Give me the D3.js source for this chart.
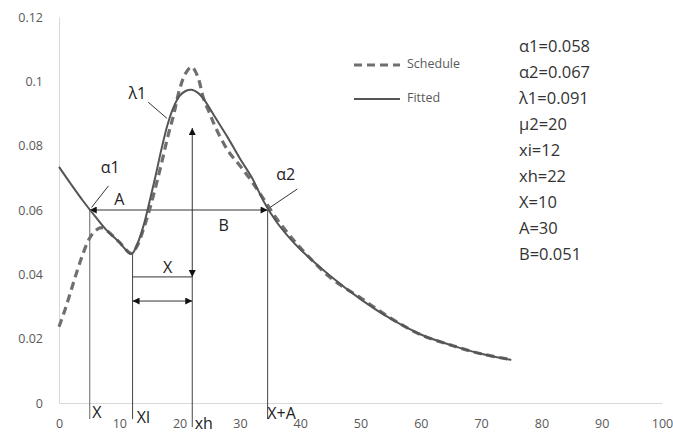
<!DOCTYPE html>
<html><head><meta charset="utf-8">
<script src="https://cdn.jsdelivr.net/npm/d3@7"></script>
<style>
body{margin:0;background:#fff;}
svg{display:block;}
</style></head>
<body>
<svg id="chart" width="673" height="447"></svg>
<script>
// ---- data ----
const fittedX = [0,2,4,6,8,10,12,13,14,15,16,17,18,19,20,21,22,23,24,26,28,30,32,34,36,38,40,45,50,55,60,65,70,75];
const fittedY = [0.0734,0.0680,0.0628,0.0580,0.0535,0.0500,0.0463,0.0495,0.0550,0.0625,0.0705,0.0790,0.0865,0.0920,0.0955,0.0970,0.0974,0.0965,0.0945,0.0885,0.0825,0.0760,0.0700,0.0625,0.0565,0.0518,0.0478,0.0395,0.0323,0.0262,0.0213,0.0180,0.0153,0.0134];
const scheduleX = [0,1,2,3,4,5,6,7,8,10,12,13,14,15,16,17,18,19,20,21,22,23,24,25,26,28,30,32,34,36,38,40,45,50,55,60,65,70,75];
const scheduleY = [0.0237,0.0290,0.0350,0.0410,0.0465,0.0510,0.0535,0.0545,0.0535,0.0500,0.0465,0.0490,0.0540,0.0600,0.0670,0.0745,0.0825,0.0895,0.0975,0.1025,0.1045,0.1015,0.0945,0.0900,0.0855,0.0785,0.0738,0.0688,0.0632,0.0575,0.0527,0.0483,0.0390,0.0327,0.0264,0.0212,0.0180,0.0153,0.0135];
const xTicks = [0,10,20,30,40,50,60,70,80,90,100];
const yTicks = [0,0.02,0.04,0.06,0.08,0.1,0.12];
const yTickLabels = ["0","0.02","0.04","0.06","0.08","0.1","0.12"];
const seriesNames = ["Schedule","Fitted"];
const paramLabels = ["α1=0.058","α2=0.067","λ1=0.091","μ2=20","xi=12","xh=22","X=10","A=30","B=0.051"];
// annotation anchors (data units)
const xAlpha1 = 5.1, xLow = 12.2, xHigh = 22.1, xAlpha2 = 34.6;
const yAB = 0.060, yXline = 0.0392, yDouble = 0.0317, yArrowTop = 0.0855, yBelow = -0.005, yBelowH = -0.0075;

// ---- layout ----
const svg = d3.select("#chart");
const x = d3.scaleLinear().domain([0,100]).range([59,662]);
const y = d3.scaleLinear().domain([0,0.12]).range([403,17]);
const tickFont = "'Open Sans', 'Liberation Sans', sans-serif";

const defs = svg.append("defs");
defs.append("marker").attr("id","arr").attr("viewBox","0 0 10 10").attr("refX",10).attr("refY",5)
  .attr("markerWidth",9).attr("markerHeight",7).attr("markerUnits","userSpaceOnUse").attr("orient","auto-start-reverse")
  .append("path").attr("d","M0,0L10,5L0,10Z").attr("fill","#111");

// axes
const gy = svg.append("g").attr("transform",`translate(${x(0)},0)`)
  .call(d3.axisLeft(y).tickValues(yTicks).tickSize(0).tickSizeOuter(0).tickPadding(16)
    .tickFormat((d,i)=>yTickLabels[i]));
gy.select(".domain").attr("stroke","#d9d9d9");
gy.selectAll("text").attr("font-family",tickFont).attr("font-size",12.5).attr("fill","#595959");

const gx = svg.append("g").attr("transform",`translate(0,${y(0)})`)
  .call(d3.axisBottom(x).tickValues(xTicks).tickSize(0).tickSizeOuter(0).tickPadding(16));
gx.select(".domain").attr("stroke","#d9d9d9");
gx.selectAll("text").attr("font-family",tickFont).attr("font-size",12.5).attr("fill","#595959");

// annotation lines
const ann = svg.append("g").attr("stroke","#333").attr("stroke-width",1).attr("fill","none");
function seg(x1,y1,x2,y2,m1,m2,col){
  const l = ann.append("line").attr("x1",x(x1)).attr("y1",y(y1)).attr("x2",x(x2)).attr("y2",y(y2));
  if(col) l.attr("stroke",col);
  if(m1) l.attr("marker-start","url(#arr)");
  if(m2) l.attr("marker-end","url(#arr)");
  return l;
}
seg(xAlpha1,yAB,xAlpha1,yBelow,false,false,"#666");
seg(xLow,0.0463,xLow,yBelow,false,false,"#444");
seg(xHigh,yXline,xHigh,yBelowH,false,false,"#444");
seg(xAlpha2,yAB,xAlpha2,yBelow,false,false,"#444");
seg(xAlpha1,yAB,xAlpha2,yAB,true,true);
seg(xHigh,yArrowTop,xHigh,yXline,true,true);
seg(xLow,yXline,xHigh,yXline,false,false);
seg(xLow,yDouble,xHigh,yDouble,true,true);

// curves
const line = d3.line().x(d=>x(d[0])).y(d=>y(d[1])).curve(d3.curveCatmullRom.alpha(0.5));
const fitted = fittedX.map((v,i)=>[v,fittedY[i]]);
const schedule = scheduleX.map((v,i)=>[v,scheduleY[i]]);
svg.append("path").datum(schedule).attr("d",line).attr("fill","none")
  .attr("stroke","#6f6f6f").attr("stroke-width",3.2).attr("stroke-dasharray","8,5");
svg.append("path").datum(fitted).attr("d",line).attr("fill","none")
  .attr("stroke","#555").attr("stroke-width",2);

// leader lines
const lead = svg.append("g").attr("stroke","#333").attr("stroke-width",1);
lead.append("line").attr("x1",x(8.2)).attr("y1",y(0.0675)).attr("x2",x(xAlpha1+0.3)).attr("y2",y(yAB+0.0008));
lead.append("line").attr("x1",x(14.8)).attr("y1",y(0.0935)).attr("x2",x(17.9)).attr("y2",y(0.0885));
lead.append("line").attr("x1",x(39.5)).attr("y1",y(0.0665)).attr("x2",x(xAlpha2+0.4)).attr("y2",y(yAB+0.0008));

// annotation labels
const annFont = "'Open Sans', 'Liberation Sans', sans-serif";
const labs = [
  ["α1",8.5,0.0728],["λ1",13.0,0.0958],["α2",37.6,0.0708],["A",10,0.0630],["B",27.3,0.0548],
  ["X",18,0.0418],["X",6.3,-0.0034],["Xl",14,-0.0050],["xh",24,-0.0068],["X+A",36.9,-0.0036]
];
svg.append("g").selectAll("text").data(labs).join("text")
  .attr("x",d=>x(d[1])).attr("y",d=>y(d[2])).attr("text-anchor","middle").attr("dominant-baseline","middle")
  .attr("font-family",annFont).attr("font-size",16).attr("fill","#222").text(d=>d[0]);

// legend
const leg = svg.append("g");
[["Schedule",65],["Fitted",99]].forEach(([n,yy],i)=>{
  leg.append("line").attr("x1",354).attr("x2",400).attr("y1",yy).attr("y2",yy)
    .attr("stroke",i===0?"#6f6f6f":"#555").attr("stroke-width",i===0?3.2:2)
    .attr("stroke-dasharray",i===0?"8,5":null);
  leg.append("text").attr("x",407).attr("y",yy).attr("dominant-baseline","middle")
    .attr("font-family",tickFont).attr("font-size",12.5).attr("fill","#595959").text(seriesNames[i]);
});

// parameter block
svg.append("g").selectAll("text").data(paramLabels).join("text")
  .attr("x",519).attr("y",(d,i)=>48+i*26).attr("dominant-baseline","middle")
  .attr("font-family",annFont).attr("font-size",16.5).attr("fill","#333").text(d=>d);
</script>
</body></html>
